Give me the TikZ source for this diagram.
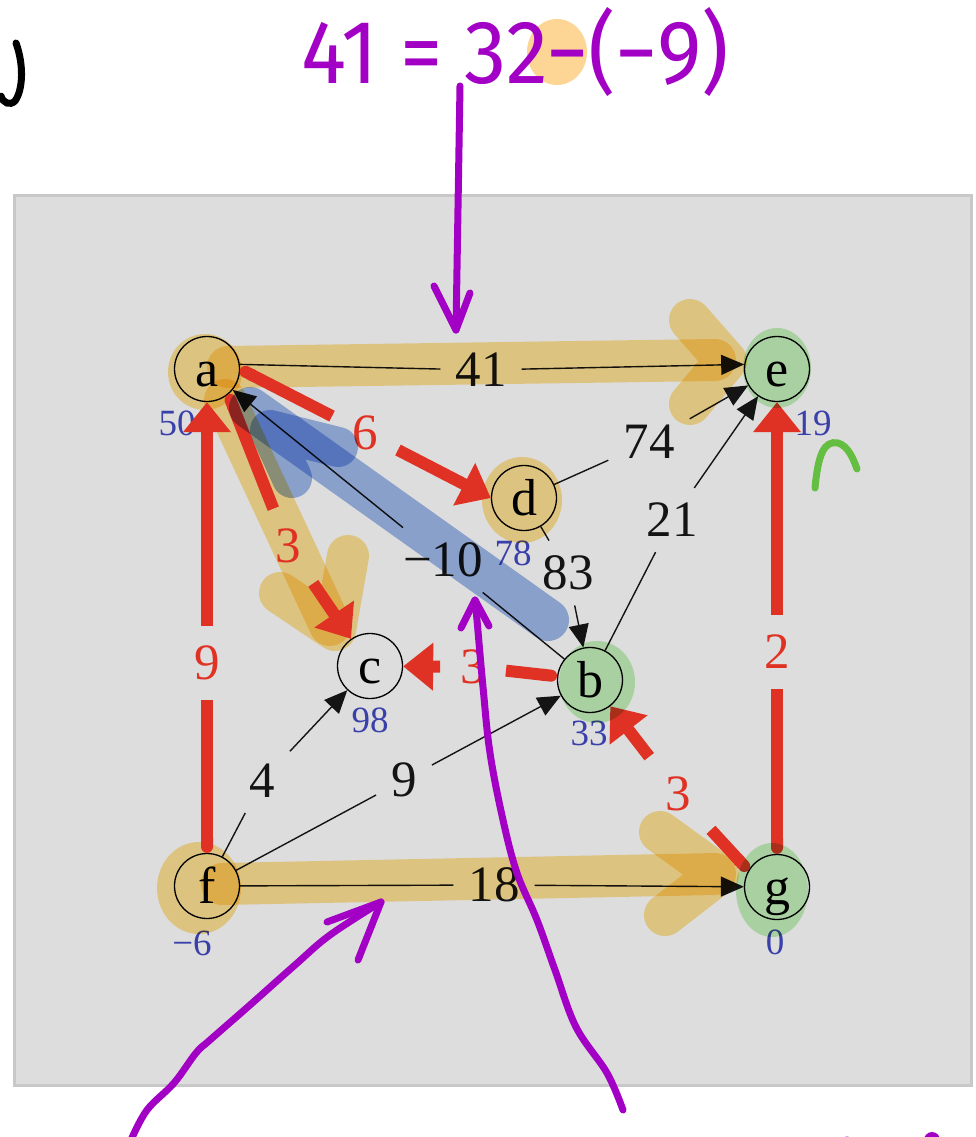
\documentclass[tikz,border=0pt]{standalone}
\usepackage{fontspec}
\setmainfont{Liberation Serif}
\newfontfamily\handfont{Fira Sans}
\usetikzlibrary{arrows.meta,calc}
\definecolor{panel}{RGB}{221,221,221}
\definecolor{panelborder}{RGB}{200,200,200}
\definecolor{tred}{RGB}{224,50,36}
\definecolor{dlabel}{RGB}{58,64,170}
\definecolor{hlorange}{RGB}{255,226,148}
\definecolor{hlgreen}{RGB}{194,240,185}
\definecolor{hlblue}{RGB}{159,185,235}
\definecolor{pen}{RGB}{163,0,198}
\definecolor{penorange}{RGB}{253,214,150}
\definecolor{pengreen}{RGB}{100,190,65}
\tikzset{
  vtx/.style={circle, draw=black, line width=1.3pt, minimum size=65pt, inner sep=0pt,
    font=\fontsize{52}{52}\selectfont, text height=35pt, text depth=0pt},
  elbl/.style={inner sep=15pt, font=\fontsize{51}{51}\selectfont, text=black!92},
  rlbl/.style={inner sep=20pt, font=\fontsize{51}{51}\selectfont, text=tred},
  dist/.style={inner sep=0pt, font=\fontsize{37}{37}\selectfont, text=dlabel},
  edgeline/.style={line width=1.4pt, draw=black!92},
  arr/.style={edgeline, -{Triangle[length=23pt,width=20pt]}},
  redseg/.style={line width=12pt, draw=tred, arrows={Round Cap[]-}},
  redarr/.style={line width=12pt, draw=tred, -{Triangle[length=30pt,width=46pt]}},
  hl/.style={line width=42pt, line cap=round, line join=round},
  penline/.style={draw=pen, line width=7pt, line cap=round, line join=round},
}
\begin{document}
\begin{tikzpicture}[x=1pt,y=-1pt]
\useasboundingbox (0,0) rectangle (976,1137);
\clip (0,0) rectangle (976,1137);
\fill[white] (0,0) rectangle (976,1137);
\draw[draw=panelborder, fill=panel, line width=3pt] (14,195) rectangle (971,1085);

% vertices
\node[vtx] (a) at (207,369) {a};
\node[vtx] (e) at (777,369) {e};
\node[vtx] (d) at (524,498) {d};
\node[vtx] (c) at (370,666) {c};
\node[vtx] (b) at (590,680) {b};
\node[vtx] (f) at (207,886) {f};
\node[vtx] (g) at (777,887) {g};

% distance labels
\node[dist] (d50) at (177,423) {50};
\node[dist] (d19) at (813,423) {19};
\node[dist] (d78) at (513,553) {78};
\node[dist] (d98) at (370,720) {98};
\node[dist] (d33) at (589,733) {33};
\node[dist] (dm6) at (192,943) {−6};
\node[dist] (d0)  at (775,942) {0};

% black edge labels
\node[elbl] (l41) at (481,370) {41};
\node[elbl] (l74) at (649,442) {74};
\node[elbl] (l21) at (672,520) {21};
\node[elbl] (l83) at (568,573) {83};
\node[elbl] (lm10) at (443,560) {−10};
\node[elbl] (l4) at (262,781) {4};
\node[elbl] (l9) at (404,780) {9};
\node[elbl] (l18) at (494,885) {18};

% black edges
\draw[edgeline] (a.8) -- (l41);  \draw[arr] (l41) -- (e.172);
\draw[edgeline] (d) -- (l74);  \draw[arr] (l74) -- (e);
\draw[edgeline] (b) -- (l21);  \draw[arr] (l21) -- (e);
\draw[edgeline] (d) -- (l83);  \draw[arr] (l83) -- (b);
\draw[edgeline] (b) -- (lm10); \draw[arr] (lm10) -- (a);
\draw[edgeline] (f) -- (l4);   \draw[arr] (l4) -- (c);
\draw[edgeline] (f) -- (l9);   \draw[arr] (l9) -- (b);
\draw[edgeline] (f) -- (l18);  \draw[arr] (l18) -- (g);

% orange highlighter (multiply, like a marker)
\begin{scope}[blend mode=multiply]
\fill[hlorange] (205,372) ellipse [x radius=37pt, y radius=38pt];
\fill[hlorange] (522,500) ellipse [x radius=40pt, y radius=43pt];
\fill[hlorange] (199,888) ellipse [x radius=42pt, y radius=46pt];
\draw[hl, draw=hlorange] (228,367) -- (715,360);
\draw[hl, draw=hlorange] (690,320) -- (726,361) -- (690,404);
\draw[hl, draw=hlorange] (225,400) -- (330,625);
\draw[hl, draw=hlorange] (280,593) -- (335,630) -- (348,556);
\draw[hl, draw=hlorange] (222,884) -- (715,874);
\draw[hl, draw=hlorange] (660,832) -- (718,874) -- (665,915);
\end{scope}

% red tree edges
\node[rlbl] (r9) at (207,663) {9};
\node[rlbl] (r6) at (365,433) {6};
\node[rlbl] (r3a) at (288,546) {3};
\node[rlbl] (r3b) at (473,667) {3};
\node[rlbl] (r3g) at (678,794) {3};
\node[rlbl] (r2) at (777,652) {2};
\draw[redseg] (f) -- (r9);        \draw[redarr] (r9) -- (a);
\draw[redseg] (a.east) -- (r6);   \draw[redarr] (r6) -- (d.west);
\draw[redseg] (a.310) -- (r3a);   \draw[redarr] (r3a) -- (c.125);
\draw[redseg] (b) -- (r3b);       \draw[redarr] (r3b) -- (c);
\draw[redseg] (g.150) -- (r3g);   \draw[redarr] (r3g) -- (b);
\draw[redseg] (g) -- (r2);        \draw[redarr] (r2) -- (e);

\begin{scope}[blend mode=multiply]
% green blobs
\fill[hlgreen] (777,368) ellipse [x radius=34pt, y radius=40pt];
\fill[hlgreen] (597,682) ellipse [x radius=38pt, y radius=41pt];
\fill[hlgreen] (772,890) ellipse [x radius=36pt, y radius=47pt];
% blue highlighter
\draw[hl, draw=hlblue] (250,408) -- (548,620);
\draw[hl, draw=hlblue, line width=40pt] (338,447) -- (270,430) -- (292,478);
\end{scope}

% handwritten annotations
\fill[penorange] (557,52) ellipse [x radius=30pt, y radius=33pt];
\node[text=pen, inner sep=0pt] (eq) at (515,52)
  {\scalebox{0.94}[1]{\handfont\fontsize{90}{90}\selectfont 41 = 32−(−9)}};
\draw[line width=7pt, line cap=round, black] (16,43) .. controls (24,65) and (23,90) .. (15,101) .. controls (10,106) and (3,103) .. (1,96);
\draw[pengreen, line width=7pt, line cap=round] (815,488) .. controls (818,455) and (824,440) .. (838,443) .. controls (848,446) and (853,458) .. (857,469);

\coordinate (t1) at (460,86);
\coordinate (t2) at (456,330);
\draw[penline] (t1) -- (t2);
\draw[penline] (434,286) -- (t2) -- (470,293);

\coordinate (m1) at (623,1110);
\coordinate (m2) at (475,600);
\draw[penline] plot[smooth, tension=0.6] coordinates {(623,1110) (607,1073) (576,1027) (555,970) (537,920) (517,873) (503,820) (490,753) (483,687) (477,620) (475,600)};
\draw[penline] (461,628) -- (m2) -- (489,626);

\coordinate (s2) at (381,902);
\draw[penline] plot[smooth, tension=0.6] coordinates {(131,1140) (147,1110) (174,1083) (196,1053) (210,1040) (250,1005) (295,965) (330,935) (381,902)};
\draw[penline] (327,922) -- (s2) -- (358,960);

\fill[pen] (932,1140) circle (8pt);
\fill[pen!40] (847,1139) circle (3pt);
\end{tikzpicture}
\end{document}
